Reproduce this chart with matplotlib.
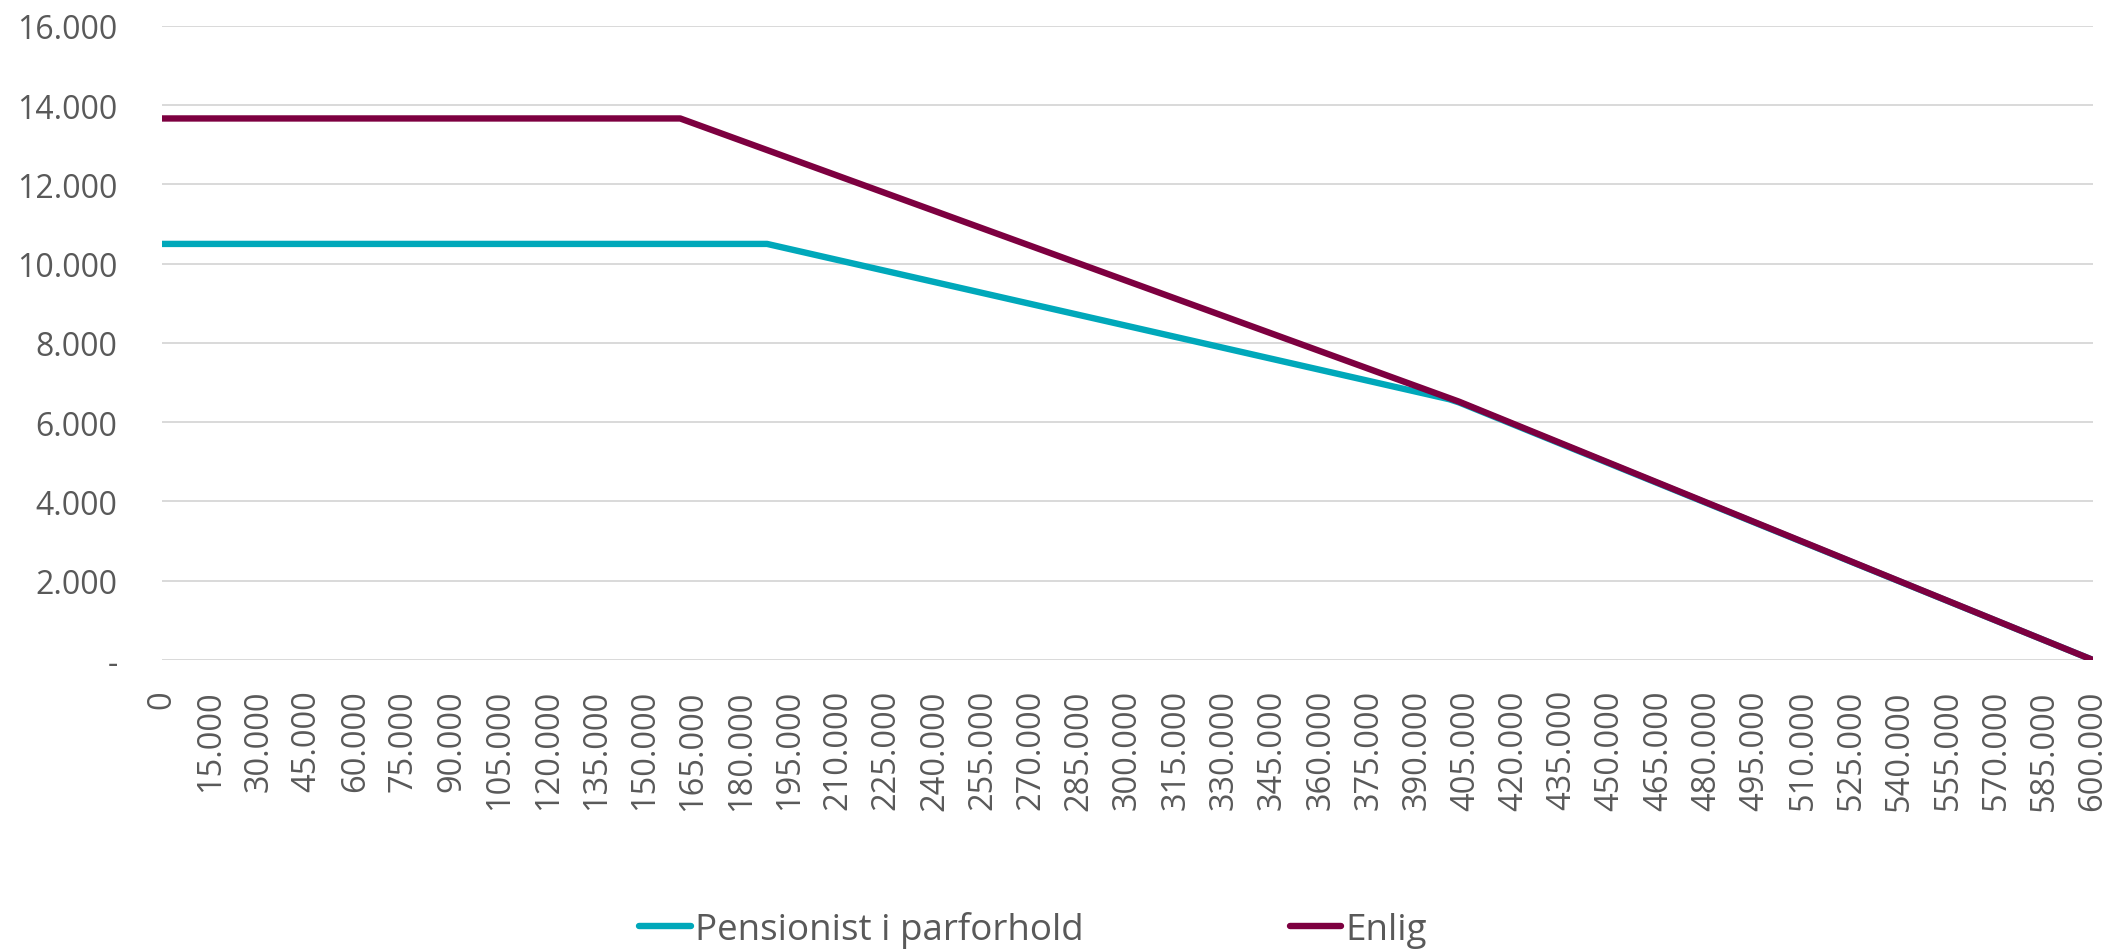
import matplotlib.pyplot as plt
from matplotlib.ticker import FuncFormatter

# Income (kr) at the breakpoints of each curve, and the supplement (kr)
par_x = [0, 188000, 400000, 403000, 600000]
par_y = [10500, 10500, 6580, 6500, 0]

enlig_x = [0, 161000, 403000, 600000]
enlig_y = [13666, 13666, 6520, 0]

x_ticks = list(range(0, 600001, 15000))
y_ticks = list(range(0, 16001, 2000))

series_names = ["Pensionist i parforhold", "Enlig"]

plt.rcParams['font.family'] = ['Open Sans', 'DejaVu Sans']

fig = plt.figure(figsize=(21.13, 9.53), dpi=100)
ax = fig.add_axes([0.0767, 0.3064, 0.9138, 0.6653])

ax.plot(par_x, par_y, color="#00A8BA", lw=4.6, solid_capstyle='round',
        label=series_names[0], zorder=3)
ax.plot(enlig_x, enlig_y, color="#7D0040", lw=4.6, solid_capstyle='round',
        label=series_names[1], zorder=4)

def dk(v, pos=None, zero="0"):
    if v == 0:
        return zero
    return f"{v:,.0f}".replace(",", ".")

ax.set_xlim(0, 600000)
ax.set_ylim(0, 16000)
ax.set_xticks(x_ticks)
ax.set_yticks(y_ticks)
ax.xaxis.set_major_formatter(FuncFormatter(lambda v, p: dk(v)))
ax.yaxis.set_major_formatter(FuncFormatter(lambda v, p: dk(v, zero="-")))

ax.tick_params(axis='x', length=0, pad=21, labelsize=23.5, labelcolor="#595959",
               labelrotation=90)
ax.tick_params(axis='y', length=0, pad=32, labelsize=23, labelcolor="#595959")
ax.grid(axis='y', color="#d9d9d9", lw=1.4)
ax.set_axisbelow(True)
for s in ax.spines.values():
    s.set_visible(False)

fig.legend(loc='center', bbox_to_anchor=(0.489, 0.024), ncol=2, frameon=False,
           fontsize=26.5, labelcolor="#595959", handlelength=1.4,
           handletextpad=0.12, columnspacing=5.6)

fig.savefig("out.png", dpi=100)
